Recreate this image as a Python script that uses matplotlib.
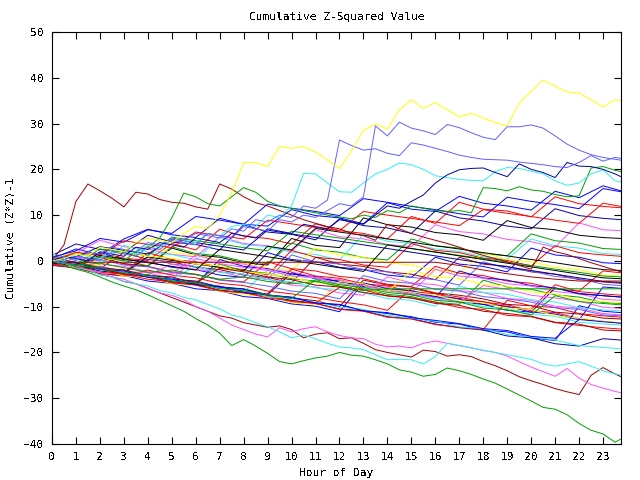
import numpy as np
import matplotlib
matplotlib.use("Agg")
import matplotlib.pyplot as plt

# gnuplot-like colours
RED = '#ff0000'
GREEN = '#00a000'
BLUE = '#0000ff'
MAGENTA = '#ff50ff'
CYAN = '#30f0f0'
DARKRED = '#a00000'
BLACK = '#000000'
YELLOW = '#ffff00'
SLATE = '#6060ff'
NAVY = '#0000a0'

# sample hours: half-hour grid and hourly grid (last sample at 23:45)
hours_half = list(np.arange(0, 24, 0.5)) + [23.75]
hours_full = list(range(24)) + [23.75]

# ---- most visible runs, read every half hour ----
yellow_top = [0, 0.5, 1.5, 1, 3, 2.5, 2, 4, 5, 4.5,
              4, 6, 7.5, 7, 10, 14.8, 21.5, 21.5, 20.6, 25,
              24.6, 25, 23.8, 22, 20.2, 24, 28.5, 29.9, 28.8, 33,
              35.2, 33.3, 34.6, 33, 31.5, 32.2, 31.2, 30.2, 29.5, 34.5,
              37, 39.5, 38.2, 36.9, 36.7, 35.2, 33.6, 35.2, 35]
slate_low = [0.5, 1, 0, 2, 1.5, 3, 2.5, 2, 4, 3.5,
             5, 4.5, 6, 5.5, 5, 7, 6.5, 9, 8.5, 10,
             9.5, 12, 11.5, 13.3, 26.4, 25.2, 24.2, 24.5, 23.5, 23,
             25.8, 25.3, 24.6, 23.9, 23.1, 22.6, 22.2, 22.1, 22, 21.6,
             21.3, 21, 20.6, 20.4, 21.5, 23, 21.8, 22.6, 22.4]
slate_high = [0, -0.5, 1, 0.5, 0, 2, 1.5, 1, 3, 2.5,
              4.5, 4, 3.5, 6, 5.5, 5, 7.5, 7, 6.5, 9,
              8.5, 10, 9.5, 11, 12.5, 12, 14, 29.5, 27.3, 30.3,
              29, 28.4, 27.6, 29.8, 29.1, 28, 27, 26.5, 29.3, 29.3,
              29.7, 29, 27.3, 25.5, 24.2, 23.2, 22.6, 22.2, 22]
navy_high = [0, 1, 0.5, 0, 2, 1.5, 1, 3, 2.5, 4,
             3.5, 3, 5, 4.5, 4, 6, 5.5, 5, 7, 6.5,
             6, 8, 7.5, 7, 9, 8.5, 8, 10, 12, 11.5,
             13, 14.4, 17, 18.8, 19.9, 20.2, 20.3, 19.3, 18.4, 21.2,
             20, 19.3, 18.2, 21.5, 20.7, 20.6, 20, 19, 18.4]
cyan_high = [0.5, 0, 1.5, 1, 0.5, 2.5, 2, 1.5, 3.5, 3,
             5, 4.5, 4, 6, 5.5, 7.5, 8, 7.5, 10, 9.5,
             12, 19.1, 19, 17, 15.1, 15, 17, 19, 20, 21.4,
             21, 20, 18.6, 18.2, 17.8, 17.6, 17.5, 19.5, 20.4, 20.2,
             19.6, 19, 17.5, 16.5, 17, 19, 19.9, 17.5, 17.2]
green_high = [0, -0.5, -1, 0, 1, 0.5, 0, 2, 3, 5,
              9.4, 14.8, 14, 12.5, 12, 14, 16, 15, 13, 12,
              11.5, 11, 10.5, 10, 9.6, 9.2, 10, 9.5, 11, 10.5,
              12, 11.5, 11, 10.8, 11, 10.5, 16, 15.8, 15.3, 16.2,
              15.5, 15.2, 14.5, 14, 14.2, 20.3, 20.6, 19.8, 19.5]
darkred_spike = [0, 3.5, 13, 16.8, 15.3, 13.7, 11.8, 15, 14.6, 13.4,
                 12.8, 12.6, 11.8, 11.3, 16.8, 15.7, 14, 12.7, 12, 11,
                 10, 9, 8.2, 7.5, 7, 6, 5.5, 4.5, 8, 7,
                 6, 5.2, 4.5, 3.8, 3, 2, 1.2, 0.5, -0.2, -1,
                 -1.8, 3, 2, 1.4, 0.5, -0.4, -1.2, -2, -2.4]
green_bottom = [0, -1, -1.8, -2.5, -3.5, -4.6, -5.5, -6.3, -7.4, -8.6,
                -9.8, -11, -12.6, -14, -15.8, -18.5, -17.2, -18.6, -20.2, -22,
                -22.5, -21.8, -21.2, -20.8, -20, -20.6, -20.8, -21.6, -22.5, -23.8,
                -24.3, -25.2, -24.8, -23.4, -24, -24.8, -25.8, -26.7, -28, -29.3,
                -30.6, -32, -32.4, -33.6, -35.5, -37, -37.8, -39.6, -38.9]
darkred_low = [0, -0.5, -1.5, -2, -3, -3.5, -4.5, -5, -6, -7,
               -8, -9, -10, -11, -12, -12.5, -13.5, -14, -14.5, -14.2,
               -15, -16.8, -16, -15.7, -17, -16.8, -18, -19.4, -20, -20.5,
               -21, -19.5, -19.8, -20.8, -20.5, -20.9, -22, -22.9, -24, -25.3,
               -26.2, -27, -27.9, -28.6, -29.2, -25, -23.3, -24.7, -25.3]
magenta_low = [0, -0.5, -1, -2, -2.5, -3.5, -4, -5, -6, -7,
               -7.5, -8.5, -10, -11, -12.5, -14, -15, -16, -16.6, -14.6,
               -15.5, -14.8, -14.4, -15.5, -16.3, -16.8, -17, -18.2, -18.8, -18.6,
               -19, -18, -17.5, -18, -18.5, -19, -19.6, -20, -20.8, -22,
               -23.2, -24.2, -25.2, -23.5, -25.6, -27, -27.8, -28.5, -28.8]
cyan_low = [0, -0.5, -1.5, -2, -3, -3.5, -4.5, -5, -5.5, -6.5,
            -7, -8, -8.5, -9.5, -10.5, -11.8, -12.5, -13.5, -14.4, -15.5,
            -16.8, -16.2, -17, -18, -18.8, -19, -19.4, -20.5, -21.6, -21.5,
            -21.6, -22.5, -20.9, -18, -18.5, -19, -19.5, -20, -20.5, -21,
            -21.5, -22.5, -23, -22.5, -22, -23, -24, -24.7, -24.9]

# ---- the rest of the bundle, read once an hour ----
flat_darkred = [-0.3] * 17 + [-1, -2, -2.8, -3.5, -4, -4.4, -4.4, -4.4]
flat_green = [0, -1, -0.5, -1.5, -2.5, -2, -3, -4, -3.5, -4.5, -5, -4.5, -5.5,
              -6.5, -6.1, -6.1, -6.1, -6.1, -6.1, -6.1, -6.1, -6.1, -6.1, -6.1, -6.1]

bundle = [
    [0.5, 2.6, 1.4, 4.8, 6.9, 5.7, 5.1, 9.3, 8.0, 7.6, 11.2, 9.9, 9.4, 8.1, 12.7, 11.3, 10.8, 14.1, 12.6, 12.0, 11.1, 15.2, 13.8, 16.4, 15.3],
    [0, -1.1, 1.7, 0.6, 0.1, 3.8, 2.4, 6.9, 5.4, 4.9, 3.7, 8.1, 6.6, 6.0, 4.8, 9.7, 8.2, 12.8, 11.3, 10.9, 9.6, 14.0, 12.5, 11.9, 11.6],
    [1.2, 3.7, 2.5, 1.9, 5.6, 4.1, 3.6, 2.4, 7.9, 6.3, 5.8, 4.6, 9.2, 7.7, 7.2, 6.0, 10.9, 9.4, 8.7, 7.6, 7.0, 11.4, 9.9, 9.3, 9.0],
    [-0.5, 1.7, 4.5, 3.1, 2.6, 1.4, 0.9, 5.3, 3.8, 3.3, 2.1, 6.8, 5.3, 4.8, 3.6, 3.1, 7.9, 6.4, 5.9, 4.7, 4.2, 3.0, 8.3, 6.8, 6.6],
    [0, -1.2, 0.7, -0.6, -1.1, 2.8, 1.3, 0.8, -0.4, -0.9, 4.9, 3.4, 2.9, 9.4, 7.9, 7.4, 6.2, 5.7, 4.5, 8.8, 7.3, 6.8, 5.6, 5.1, 4.9],
    [0, 1.8, 0.6, 0.1, -1.1, 3.1, 1.6, 1.1, -0.1, -0.6, 3.9, 2.4, 1.9, 0.7, 0.2, 4.8, 3.3, 2.8, 1.6, 1.1, 5.9, 4.4, 3.9, 2.7, 2.5],
    [1.5, 0.3, -0.8, 3.4, 1.9, 1.4, 0.2, 5.1, 3.6, 3.1, 1.9, 1.4, 0.2, 5.8, 4.3, 3.8, 2.6, 2.1, 0.9, 0.4, 4.8, 3.3, 2.8, 1.6, 1.4],
    [0, -0.9, -1.4, -2.6, 1.8, 0.3, -0.2, -1.4, -1.9, -3.1, 2.3, 0.8, 0.3, -0.9, -1.4, 3.8, 2.3, 1.8, 0.6, 0.1, -1.1, 3.3, 1.8, 1.3, 1.0],
    [-0.5, -1.4, 1.8, 0.3, -0.2, -1.4, -1.9, -3.1, -3.6, 1.8, 0.3, -0.2, -1.4, -1.9, -3.1, -3.6, 0.8, -0.7, -1.2, -2.4, 2.8, 1.3, 0.8, -0.4, -0.6],
    [0, -1.2, -1.7, 1.8, 0.3, -0.2, -1.4, -1.9, -3.1, -3.6, -4.8, 0.8, -0.7, -1.2, -2.4, -2.9, -4.1, 0.8, -0.7, -1.2, -2.4, -2.9, -4.1, -4.6, -4.9],
    [0.5, 1.8, 0.6, 0.1, 3.3, 1.8, 1.3, 0.1, -0.4, -1.6, -2.1, 2.8, 1.3, 0.8, -0.4, -0.9, -2.1, -2.6, 1.8, 0.3, -0.2, -1.4, -1.9, -3.1, -3.3],
    [0, -1.2, -1.7, -2.9, 0.8, -0.7, -1.2, -2.4, -2.9, -4.1, 1.3, -0.2, -0.7, -1.9, -2.4, -3.6, -4.1, -5.3, -0.2, -1.7, -2.2, -3.4, -3.9, -5.1, -5.4],
    [-0.5, -1.4, 0.8, -0.7, -1.2, -2.4, -2.9, -4.1, -4.6, -0.2, -1.7, -2.2, -3.4, -3.9, -5.1, -5.6, -1.2, -2.7, -3.2, -4.4, -4.9, -6.1, -6.6, -2.2, -2.6],
    [0, -1.2, -1.7, -2.9, -3.4, -4.6, -5.1, 0.3, -1.2, -1.7, -2.9, -3.4, -4.6, -5.1, -6.3, -6.8, -8.0, -2.2, -3.7, -4.2, -5.4, -5.9, -7.1, -7.6, -7.9],
    [0, 0.8, -0.7, -1.2, -2.4, -2.9, 1.3, -0.2, -0.7, -1.9, -2.4, -3.6, -4.1, -5.3, -5.8, -7.0, -1.8, -3.3, -3.8, -5.0, -5.5, -6.7, -7.2, -8.4, -8.6],
    [0, -0.9, -1.4, -2.6, -3.1, -4.3, -4.8, -0.7, -2.2, -2.7, -3.9, -4.4, -5.6, -6.1, -7.3, -7.8, -9.0, -9.5, -4.2, -5.7, -6.2, -7.4, -7.9, -9.1, -9.3],
    [0.5, -0.4, -1.6, -2.1, -3.3, -3.8, -5.0, -5.5, -6.7, -7.2, -1.8, -3.3, -3.8, -5.0, -5.5, -6.7, -7.2, -8.4, -8.9, -10.1, -10.6, -5.2, -6.7, -7.2, -7.5],
    [0, -0.5, -1.8, -2.2, -3.5, -4.0, -4.4, -5.7, -6.1, -7.4, -2.6, -3.9, -4.4, -5.6, -6.1, -7.4, -7.8, -9.0, -9.5, -10.8, -11.2, -5.9, -7.2, -7.6, -7.9],
    [0.2, -0.6, -1.8, -2.3, -3.5, -4.0, -5.2, -5.6, -6.8, -2.0, -3.3, -3.7, -5.0, -5.4, -6.6, -7.1, -8.3, -8.7, -10.0, -10.4, -11.7, -12.1, -13.4, -13.8, -14.0],
    [-1, -1.5, -2.8, -3.2, -4.4, -4.9, -6.1, -6.5, -7.8, -8.2, -9.4, -9.9, -11.1, -4.8, -6.1, -6.5, -7.8, -8.2, -9.5, -9.9, -11.2, -11.6, -12.9, -5.7, -6.0],
    [-0.8, -1.6, -2.8, -3.3, -2.0, -3.1, -3.7, -4.9, -5.4, -6.6, -7.2, -8.0, -8.9, -9.6, -10.8, -6.0, -7.1, -7.9, -9.0, -9.6, -10.9, -11.3, -12.6, -13.2, -13.6],
    [0.6, -0.3, -1.6, -2.0, -3.4, -4.0, -4.6, -5.9, -6.3, -7.6, -8.1, -8.7, -10.0, -4.2, -5.3, -5.7, -7.0, -7.5, -8.3, -9.5, -9.8, -11.2, -11.6, -12.5, -12.7],
    [0, -0.7, -1.1, -2.3, -2.6, -3.9, 0.5, -0.6, -1.4, -2.1, -3.3, -3.7, -5.0, -5.4, -6.5, -7.2, -8.0, -9.1, -5.4, -6.2, -7.5, -8.1, -8.8, -10.1, -10.4],
    [-0.4, -1.5, -1.9, -3.3, -3.6, -5.0, -5.3, -6.6, -7.3, -7.9, -9.1, -9.6, -4.5, -5.0, -6.3, -6.8, -7.5, -8.7, -9.2, -10.3, -10.6, -12.0, -12.5, -13.2, -13.5],
    [0.3, -0.9, -1.3, -2.5, -3.1, -3.8, -5.0, -5.7, -6.2, -7.5, -7.9, -9.2, -9.6, -10.9, -11.5, -12.2, -13.4, -13.8, -15.1, -15.5, -16.8, -17.4, -9.8, -11.0, -11.3],
    [-0.5, -1.0, -2.2, -2.8, -3.5, -4.7, -5.1, -6.4, -6.9, -7.7, -8.6, -9.3, -10.5, -10.9, -12.2, -12.6, -13.8, -14.6, -15.1, -16.4, -16.8, -18.1, -18.6, -17.0, -17.3],
    [0, -1.3, -1.8, -3.0, -3.4, -4.8, -5.2, -6.5, -7.0, -7.6, -8.9, -9.3, -10.6, -11.0, -12.3, -12.7, -13.9, -14.5, -15.0, -8.6, -9.8, -10.2, -11.5, -12.0, -12.3],
    [0.2, -0.6, -1.9, -2.4, -3.2, -4.1, -4.8, -6.0, -6.4, -7.8, -8.3, -9.0, -10.1, -10.6, -11.9, -12.5, -13.2, -14.4, -14.8, -16.1, -16.6, -17.3, -18.5, -18.9, -19.2],
    [0.8, 2.2, 4.9, 4.1, 6.8, 6.0, 9.7, 8.9, 8.0, 12.4, 11.5, 10.8, 9.9, 13.6, 12.8, 11.9, 11.2, 10.3, 9.6, 13.9, 13.0, 12.3, 11.4, 15.8, 15.1],
    [0, 1.9, 1.2, 4.4, 3.6, 2.9, 6.3, 5.5, 4.8, 8.9, 8.1, 7.3, 6.6, 10.8, 10.0, 9.3, 8.5, 7.7, 11.2, 10.4, 9.7, 8.9, 8.2, 12.6, 11.9],
    [-0.3, -1.0, -1.8, -2.6, 0.9, 0.1, -0.7, -1.4, -2.2, 3.2, 2.4, 7.1, 6.3, 5.6, 4.8, 4.1, 3.3, 2.6, 1.8, 1.1, 0.3, -0.4, -1.2, -1.9, -2.1],
    [0, -0.7, 2.6, 1.9, 1.1, 5.2, 4.4, 3.7, 2.9, 2.2, 6.5, 5.7, 5.0, 4.2, 3.5, 2.7, 2.0, 1.2, 0.5, -0.3, -1.0, -1.8, -2.5, -3.3, -3.5],
    [0, -0.9, -1.3, -2.6, -3.1, -0.7, -1.9, -2.3, -3.6, -4.0, -5.3, -5.7, -7.0, -7.5, -3.5, -4.8, -5.2, -6.5, -6.9, -8.2, -8.6, -9.9, -10.3, -11.5, -11.8],
    [0.3, -0.6, -1.0, 2.3, 1.0, 0.6, -0.7, -1.1, -2.4, -2.8, -3.6, -4.7, -5.1, -6.4, -6.8, -2.1, -3.4, -3.8, -5.1, -5.5, -6.8, -7.2, -8.5, -8.9, -9.1],
    [0, -0.6, -1.8, -2.2, -3.5, -3.9, -1.2, -2.5, -2.9, -4.1, -4.6, -5.9, -6.3, -7.0, -8.2, -8.6, -9.9, -5.5, -6.9, -7.3, -8.5, -9.0, -10.2, -10.7, -10.9],
    [-0.7, -1.2, -2.5, -2.9, -4.0, -4.6, -5.3, -6.5, -6.9, -8.1, -8.7, -9.2, -5.8, -6.3, -7.7, -8.1, -9.0, -10.2, -10.6, -11.9, -12.2, -13.5, -14.1, -14.6, -14.9],
    [0, -0.5, -1.8, -2.2, -3.6, -4.0, -5.2, -5.6, -6.9, -7.4, -8.0, -9.2, -9.5, -10.9, -11.3, -12.4, -13.0, -13.7, -14.8, -15.2, -16.5, -16.9, -12.8, -13.3, -13.6],
    [0.4, -0.3, -1.5, -2.0, -3.2, -3.5, -4.9, -1.6, -2.4, -3.5, -4.1, -5.3, -5.7, -6.9, -7.6, -8.1, -9.3, -9.7, -11.0, -11.5, -12.1, -13.4, -13.8, -15.1, -15.3],
    [0, -1.1, -1.5, -2.7, -3.0, -4.4, -4.8, -6.1, -6.5, -7.4, -8.2, -4.1, -5.2, -5.8, -6.9, -7.4, -8.6, -9.0, -10.3, -10.7, -11.8, -7.6, -8.9, -9.3, -9.6],
    [0, 1.0, 0.3, -0.9, -1.3, -2.6, -3.0, -4.2, -4.7, -5.5, -6.6, -7.1, -8.3, -3.2, -4.5, -4.9, -6.2, -6.6, -7.8, -8.3, -9.0, -10.2, -10.6, -11.8, -12.0],
    [0, -0.9, 1.2, 0.4, -0.4, -1.2, -2.0, 2.5, 1.7, 0.9, 0.1, -0.7, -1.5, -2.3, 3.5, 2.7, 1.9, 1.1, 0.3, -0.5, -1.3, -2.1, -2.9, -3.7, -3.9],
    [0, 0.9, 3.1, 2.3, 1.5, 4.8, 4.0, 3.2, 2.4, 6.7, 5.9, 5.1, 4.3, 3.5, 2.7, 1.9, 1.1, 0.3, -0.5, -1.3, -2.1, -2.9, -3.7, -4.5, -4.7],
]
bundle_colors = [BLUE, RED, NAVY, MAGENTA, BLACK, GREEN, CYAN, RED, BLUE, DARKRED,
                 YELLOW, SLATE, RED, BLUE, MAGENTA, GREEN, RED, NAVY, CYAN, BLUE,
                 RED, DARKRED, MAGENTA, YELLOW, BLUE, NAVY, RED, CYAN,
                 BLUE, RED, BLACK, GREEN,
                 MAGENTA, YELLOW, CYAN, RED, BLUE, DARKRED, GREEN, SLATE, BLACK, NAVY]

plt.rcParams['font.family'] = 'DejaVu Sans Mono'
plt.rcParams['font.size'] = 8
plt.rcParams['text.antialiased'] = False

fig = plt.figure(figsize=(6.4, 4.8), dpi=100)
ax = fig.add_axes([52 / 640, 1 - 444 / 480, (621 - 52) / 640, (444 - 32) / 480])

lw = 0.7
for vals, col in zip(bundle, bundle_colors):
    ax.plot(hours_full, vals, color=col, lw=lw)
ax.plot(hours_full, flat_darkred, color=DARKRED, lw=lw)
ax.plot(hours_full, flat_green, color=GREEN, lw=lw)

big_runs = [
    (green_bottom, GREEN), (darkred_low, DARKRED), (magenta_low, MAGENTA),
    (cyan_low, CYAN), (darkred_spike, DARKRED), (green_high, GREEN),
    (cyan_high, CYAN), (navy_high, NAVY), (slate_low, SLATE),
    (slate_high, SLATE), (yellow_top, YELLOW),
]
for vals, col in big_runs:
    ax.plot(hours_half, vals, color=col, lw=lw)

ax.set_xlim(0, 23.75)
ax.set_ylim(-40, 50)
ax.set_xticks(range(24))
ax.set_yticks(range(-40, 51, 10))
ax.tick_params(direction='in', length=5, width=0.8, top=True, right=True, pad=6)
for sp in ax.spines.values():
    sp.set_linewidth(0.8)

ax.set_title('Cumulative Z-Squared Value', fontsize=8, pad=9)
ax.set_xlabel('Hour of Day', labelpad=4)
ax.set_ylabel('Cumulative (Z*Z)-1', labelpad=6)

fig.savefig('out.png', dpi=100)
